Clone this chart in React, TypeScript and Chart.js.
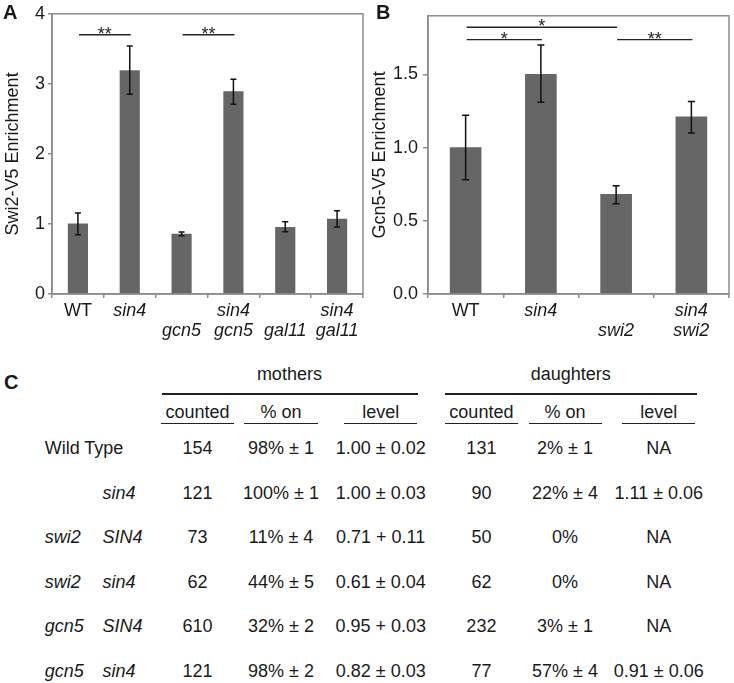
import React, { useEffect, useRef } from "react";
import { Chart, registerables } from "chart.js";
Chart.register(...registerables);

// ---- Panel A data ----
const catsA = [["WT"], ["sin4"], ["", "gcn5"], ["sin4", "gcn5"], ["", "gal11"], ["sin4", "gal11"]];
const valsA = [1.0, 3.19, 0.855, 2.89, 0.95, 1.07];
const lowA = [0.845, 2.85, 0.83, 2.71, 0.89, 0.955];
const highA = [1.155, 3.54, 0.885, 3.065, 1.03, 1.19];
const sigFromA = [0, 2];
const sigToA = [1, 3];
const sigYA = [3.7, 3.7];
const sigTextA = ["**", "**"];

// ---- Panel B data ----
const catsB = [["WT"], ["sin4"], ["", "swi2"], ["sin4", "swi2"]];
const valsB = [1.0, 1.5, 0.68, 1.21];
const lowB = [0.78, 1.31, 0.616, 1.1];
const highB = [1.22, 1.7, 0.74, 1.315];
const sigFromB = [0, 0, 2];
const sigToB = [2, 1, 3];
const sigYB = [1.822, 1.737, 1.737];
const sigTextB = ["*", "*", "**"];

// ---- Panel C table ----
const rowLabels1 = ["Wild Type", "", "swi2", "swi2", "gcn5", "gcn5"];
const rowLabels2 = ["", "sin4", "SIN4", "sin4", "SIN4", "sin4"];
const mCounted = ["154", "121", "73", "62", "610", "121"];
const mOn = ["98% ± 1", "100% ± 1", "11% ± 4", "44% ± 5", "32% ± 2", "98% ± 2"];
const mLevel = ["1.00 ± 0.02", "1.00 ± 0.03", "0.71 + 0.11", "0.61 ± 0.04", "0.95 + 0.03", "0.82 ± 0.03"];
const dCounted = ["131", "90", "50", "62", "232", "77"];
const dOn = ["2% ± 1", "22% ± 4", "0%", "0%", "3% ± 1", "57% ± 4"];
const dLevel = ["NA", "1.11 ± 0.06", "NA", "NA", "NA", "0.91 ± 0.06"];
const groupHeaders = ["mothers", "daughters"];
const subHeaders = ["counted", "% on", "level", "counted", "% on", "level"];

const FONT = "'Liberation Sans', Arial, Helvetica, sans-serif";
const TEXT = "#1a1a1a";
const AXIS = "#8c8c8c";
const BAR = "#666666";

function makeOverlay(low: number[], high: number[], from: number[], to: number[], sy: number[], st: string[], cap: number) {
  return {
    id: "overlay",
    afterDatasetsDraw(chart: any) {
      const { ctx, chartArea: a, scales } = chart;
      const x = scales.x, y = scales.y;
      ctx.save();
      ctx.strokeStyle = AXIS;
      ctx.lineWidth = 1.5;
      ctx.strokeRect(a.left, a.top, a.right - a.left, a.bottom - a.top);
      ctx.strokeStyle = "#111";
      ctx.lineWidth = 1.5;
      low.forEach((lo, i) => {
        const px = x.getPixelForValue(i);
        const y1 = y.getPixelForValue(lo);
        const y2 = y.getPixelForValue(high[i]);
        ctx.beginPath();
        ctx.moveTo(px, y1); ctx.lineTo(px, y2);
        ctx.moveTo(px - cap, y1); ctx.lineTo(px + cap, y1);
        ctx.moveTo(px - cap, y2); ctx.lineTo(px + cap, y2);
        ctx.stroke();
      });
      ctx.strokeStyle = "#222";
      ctx.fillStyle = "#222";
      ctx.lineWidth = 1.4;
      ctx.font = `18px ${FONT}`;
      ctx.textAlign = "center";
      ctx.textBaseline = "alphabetic";
      from.forEach((f, i) => {
        const x1 = x.getPixelForValue(f) + 1;
        const x2 = x.getPixelForValue(to[i]) + 1;
        const py = y.getPixelForValue(sy[i]);
        ctx.beginPath();
        ctx.moveTo(x1, py); ctx.lineTo(x2, py);
        ctx.stroke();
        ctx.fillText(st[i], (x1 + x2) / 2, py + 5);
      });
      ctx.restore();
    },
  };
}

function BarPanel(props: any) {
  const ref = useRef<HTMLCanvasElement>(null);
  useEffect(() => {
    const p = props;
    const chart = new Chart(ref.current as HTMLCanvasElement, {
      type: "bar",
      data: {
        labels: p.cats,
        datasets: [{ data: p.vals, backgroundColor: BAR, borderWidth: 0, barThickness: p.barW }],
      },
      options: {
        animation: false,
        responsive: false,
        events: [],
        layout: { padding: { top: 11, right: p.padRight, left: 0, bottom: 0 } },
        plugins: { legend: { display: false }, tooltip: { enabled: false } },
        scales: {
          x: {
            type: "category",
            afterFit: (s: any) => { s.height = 51; },
            border: { color: AXIS, width: 1.5 },
            grid: { offset: true, drawOnChartArea: false, drawTicks: true, tickLength: 4, color: AXIS, lineWidth: 1.5 },
            ticks: {
              color: TEXT,
              padding: 3,
              maxRotation: 0,
              autoSkip: false,
              font: (c: any) => ({ family: FONT, size: 18, lineHeight: 1.1, style: c.index === 0 ? "normal" : "italic" }),
            },
          },
          y: {
            min: 0,
            max: p.max,
            afterFit: (s: any) => { s.width = p.yWidth; },
            border: { color: AXIS, width: 1.5 },
            grid: { drawOnChartArea: false, drawTicks: true, tickLength: p.tickLen, color: AXIS, lineWidth: 1.5 },
            ticks: {
              stepSize: p.step,
              includeBounds: false,
              color: TEXT,
              padding: p.tickPad,
              font: { family: FONT, size: 18 },
              callback: (v: any) => Number(v).toFixed(p.decimals),
            },
            title: { display: true, text: p.title, color: TEXT, font: { family: FONT, size: 18 }, padding: { top: 2, bottom: 0 } },
          },
        },
      } as any,
      plugins: [makeOverlay(p.low, p.high, p.from, p.to, p.sy, p.st, p.cap)],
    });
    return () => chart.destroy();
  }, []);
  return (
    <canvas
      ref={ref}
      width={367}
      height={345}
      style={{ position: "absolute", left: props.left, top: 0, width: 367, height: 345 }}
    />
  );
}

function T(props: any) {
  return (
    <div
      style={{
        position: "absolute",
        left: props.x,
        top: props.y,
        transform: props.left ? "translate(0,-50%)" : "translate(-50%,-50%)",
        fontFamily: FONT,
        fontSize: props.size || 18,
        fontStyle: props.italic ? "italic" : "normal",
        fontWeight: props.bold ? "bold" : "normal",
        lineHeight: 1,
        whiteSpace: "nowrap",
        color: TEXT,
      }}
    >
      {props.children}
    </div>
  );
}

function HLine(props: any) {
  return (
    <div style={{ position: "absolute", left: props.x1, top: props.y - 0.75, width: props.x2 - props.x1, height: 1.5, background: "#222" }} />
  );
}

export default function App() {
  const colX = [197.6, 281, 380.7, 481.4, 565, 658.8];
  const rowY = [448.3, 492.7, 537.3, 581.7, 625.7, 671];
  const cols = [mCounted, mOn, mLevel, dCounted, dOn, dLevel];
  const subLines = [[161.4, 233.9], [244.2, 317.6], [344, 417.4], [444.7, 518.1], [528.5, 601.9], [622.1, 695.5]];
  const groupX = [289.4, 570.8];
  const groupLines = [[162.4, 418], [445, 697.4]];
  return (
    <div style={{ position: "absolute", left: 0, top: 0, width: 734, height: 683, background: "#fff", overflow: "hidden" }}>
      <BarPanel
        left={0}
        cats={catsA}
        vals={valsA}
        low={lowA}
        high={highA}
        from={sigFromA}
        to={sigToA}
        sy={sigYA}
        st={sigTextA}
        max={4}
        step={1}
        decimals={0}
        barW={19.5}
        cap={3}
        yWidth={52}
        padRight={4}
        tickLen={4}
        tickPad={3}
        title="Swi2-V5 Enrichment"
      />
      <BarPanel
        left={367}
        cats={catsB}
        vals={valsB}
        low={lowB}
        high={highB}
        from={sigFromB}
        to={sigToB}
        sy={sigYB}
        st={sigTextB}
        max={1.9}
        step={0.5}
        decimals={1}
        barW={31}
        cap={3.5}
        yWidth={61}
        padRight={5}
        tickLen={5}
        tickPad={5}
        title="Gcn5-V5 Enrichment"
      />
      <T x={3} y={12} left bold size={20}>A</T>
      <T x={376} y={12} left bold size={20}>B</T>
      <T x={4} y={382} left bold size={20}>C</T>
      {groupHeaders.map((g, i) => (
        <T key={"g" + i} x={groupX[i]} y={374}>{g}</T>
      ))}
      {groupLines.map((l, i) => (
        <HLine key={"gl" + i} x1={l[0]} x2={l[1]} y={394} />
      ))}
      {subHeaders.map((s, i) => (
        <T key={"s" + i} x={colX[i]} y={411.7}>{s}</T>
      ))}
      {subLines.map((l, i) => (
        <HLine key={"sl" + i} x1={l[0]} x2={l[1]} y={423.7} />
      ))}
      {rowY.map((ry, r) => (
        <React.Fragment key={"r" + r}>
          {rowLabels1[r] && (
            <T x={44.7} y={ry} left italic={rowLabels1[r] !== "Wild Type"}>{rowLabels1[r]}</T>
          )}
          {rowLabels2[r] && (
            <T x={102.6} y={ry} left italic>{rowLabels2[r]}</T>
          )}
          {cols.map((c, ci) => (
            <T key={"c" + ci} x={colX[ci]} y={ry}>{c[r]}</T>
          ))}
        </React.Fragment>
      ))}
    </div>
  );
}
